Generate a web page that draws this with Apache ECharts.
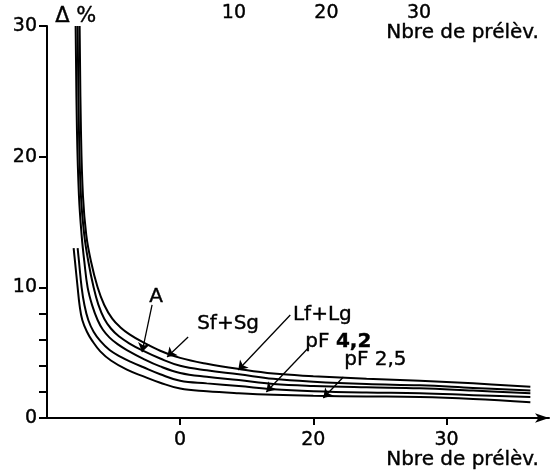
<!DOCTYPE html>
<html><head><meta charset="utf-8">
<script src="https://cdn.jsdelivr.net/npm/echarts@6/dist/echarts.min.js"></script>
<style>html,body{margin:0;padding:0;background:#fff}#c{width:551px;height:471px}</style>
</head><body><div id="c"></div>
<script>
// Curves: [x (bottom axis units), Δ%]
const curveLfLg = [[2.45,30],[2.55,22],[2.7,17],[2.95,14],[3.3,12],[3.8,10],[4.3,8.65],[4.9,7.6],[5.5,6.95],[6.2,6.4],[7.2,5.8],[8.5,5.15],[10,4.6],[12,4.15],[14.4,3.75],[17,3.4],[20,3.2],[24,3.0],[28,2.85],[32,2.65],[36.3,2.4]];
const curveSfSg = [[2.3,30],[2.4,22],[2.55,17],[2.8,14],[3.1,12],[3.5,10],[3.85,8.7],[4.3,7.6],[4.8,6.85],[5.4,6.25],[6.2,5.7],[7.2,5.15],[8.5,4.55],[10,4.0],[12,3.65],[14.4,3.35],[17,3.0],[20,2.78],[24,2.6],[28,2.5],[32,2.3],[36.3,2.1]];
const curveA    = [[2.15,30],[2.25,22],[2.4,17],[2.6,14],[2.8,12],[3.05,10],[3.4,8.6],[3.8,7.5],[4.2,6.75],[4.7,6.15],[5.3,5.65],[6,5.2],[7.2,4.55],[8.5,3.95],[10,3.45],[12,3.15],[14.4,2.9],[17,2.6],[20,2.45],[24,2.35],[28,2.28],[32,2.1],[36.3,1.9]];
const curvePF42 = [[2.3,13],[2.4,12],[2.6,10],[2.8,8.7],[3.1,7.5],[3.5,6.6],[4.0,5.9],[4.7,5.2],[5.5,4.7],[6.3,4.3],[7.2,3.9],[8.5,3.35],[10,2.85],[12,2.65],[14.4,2.45],[17,2.2],[20,2.05],[24,1.95],[28,1.9],[32,1.75],[36.3,1.6]];
const curvePF25 = [[2.0,13],[2.1,12],[2.3,10],[2.45,8.6],[2.65,7.5],[3.0,6.6],[3.4,5.9],[4.0,5.1],[4.8,4.4],[6,3.7],[7.2,3.2],[8.5,2.7],[10,2.25],[12,2.05],[14.4,1.9],[17,1.78],[20,1.7],[24,1.65],[28,1.6],[32,1.45],[36.3,1.2]];

// Axis ticks and labels
const yTickValues = [0,2,4,6,8,10,20,30];
const yLabelValues = [0,10,20,30];
const bottomTickValues = [10,20,30];
const bottomTickLabels = {10:'0', 20:'20', 30:'30'};
const topTickValues = [10,20,30];

// Annotations: label text and position, arrow start -> tip
const annotLabels = [
  {name:'A', pos:[8.2,9.26]},
  {name:'Sf+Sg', pos:[13.6,7.19]},
  {name:'Lf+Lg', pos:[20.68,7.88]},
  {name:'pF42', pos:[21.88,5.81]},
  {name:'pF25', pos:[24.66,4.44]}
];
const annotArrows = [
  [[7.89,8.65],[7.14,5.05]],
  [[10.6,6.2],[9.02,4.67]],
  [[18.27,7.88],[14.36,3.67]],
  [[19.62,5.36],[16.47,1.99]],
  [[22.26,3.14],[20.75,1.53]]
];

const FONT = 'DejaVu Sans';
const TB = {textBorderColor:'#000', textBorderWidth:0.4};
const chart = echarts.init(document.getElementById('c'));
const curveSeries = [curveLfLg, curveSfSg, curveA, curvePF42, curvePF25].map(d => ({
  type:'line', data:d, smooth:0.4, showSymbol:false, symbol:'none',
  lineStyle:{color:'#000', width:2}, silent:true, animation:false
}));

chart.setOption({
  animation:false,
  grid:{left:47, right:2, top:26, bottom:53, containLabel:false},
  xAxis:[{
    type:'value', position:'bottom', min:0, max:37.7,
    axisLine:{show:true, lineStyle:{color:'#000', width:2}, symbol:['none','arrow'], symbolSize:[7,14]},
    axisTick:{show:true, customValues:bottomTickValues, inside:false, length:7, lineStyle:{color:'#000', width:2}},
    axisLabel:Object.assign({show:true, customValues:bottomTickValues, formatter:v=>bottomTickLabels[v]||'', color:'#000', fontFamily:FONT, fontSize:19, margin:13}, TB),
    splitLine:{show:false}
  },{
    type:'value', position:'top', min:-10.2, max:44.05,
    axisLine:{show:false}, axisTick:{show:false},
    axisLabel:Object.assign({show:true, customValues:topTickValues, color:'#000', fontFamily:FONT, fontSize:19, margin:3}, TB),
    splitLine:{show:false}
  }],
  yAxis:{
    type:'value', min:0, max:30,
    axisLine:{show:true, lineStyle:{color:'#000', width:2}},
    axisTick:{show:true, customValues:yTickValues, length:8, lineStyle:{color:'#000', width:2}},
    axisLabel:Object.assign({show:true, customValues:yLabelValues, color:'#000', fontFamily:FONT, fontSize:19, margin:10}, TB),
    splitLine:{show:false}
  },
  graphic:[
    {type:'text', left:55, top:6, style:{text:'Δ %', fontFamily:FONT, fontSize:21, fill:'#000', stroke:'#000', lineWidth:0.4}},
    {type:'text', left:386, top:23, style:{text:'Nbre de prélèv.', fontFamily:FONT, fontSize:20, fill:'#000', stroke:'#000', lineWidth:0.4}},
    {type:'text', left:386, top:450, style:{text:'Nbre de prélèv.', fontFamily:FONT, fontSize:20, fill:'#000', stroke:'#000', lineWidth:0.4}}
  ],
  series:[...curveSeries,
    {type:'scatter', symbolSize:0, itemStyle:{opacity:1}, data:annotLabels.map(a=>({name:a.name, value:a.pos})), silent:true,
     label:Object.assign({show:true, position:'inside', color:'#000', opacity:1, fontFamily:FONT, fontSize:20,
       formatter:p=>{ if(p.name==='pF42') return '{n|pF }{b|4,2}'; if(p.name==='pF25') return 'pF 2,5'; return p.name; },
       rich:{n:Object.assign({fontFamily:FONT, fontSize:20, color:'#000'}, TB), b:Object.assign({fontFamily:FONT, fontSize:20, fontWeight:'bold', color:'#000'}, TB)}}, TB)
    },
    {type:'line', data:[], silent:true,
     markLine:{silent:true, symbol:['none','arrow'], symbolSize:9, label:{show:false},
       lineStyle:{color:'#000', width:1.3, type:'solid'},
       data:annotArrows.map(a=>[{coord:a[0]},{coord:a[1]}])}
    }
  ]
});
</script></body></html>
